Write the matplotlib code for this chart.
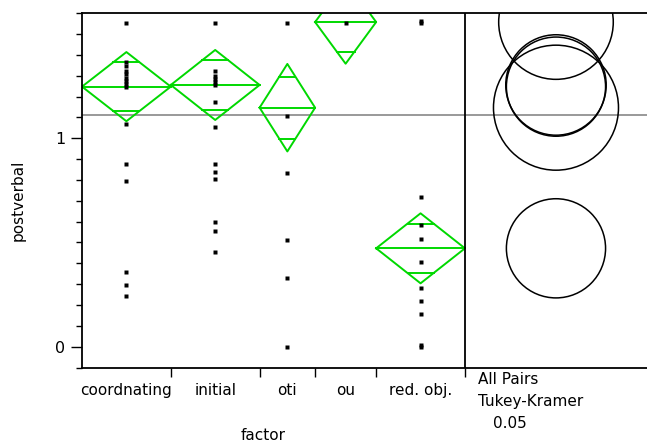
import numpy as np
import matplotlib.pyplot as plt
from matplotlib.patches import Ellipse

# groups (width of each group is proportional to its size)
groups = ['coordnating', 'initial', 'oti', 'ou', 'red. obj.']
group_n = [16, 16, 10, 11, 16]

obs = {
    'coordnating': [1.553, 1.365, 1.345, 1.325, 1.31, 1.29, 1.275, 1.26, 1.245,
                    1.069, 0.878, 0.797, 0.36, 0.298, 0.245],
    'initial': [1.553, 1.324, 1.30, 1.285, 1.27, 1.255, 1.173, 1.056,
                0.878, 0.837, 0.806, 0.600, 0.557, 0.456],
    'oti': [1.553, 1.108, 0.833, 0.512, 0.330, 0.0],
    'ou': [1.553],
    'red. obj.': [1.565, 1.553, 0.720, 0.585, 0.518, 0.408, 0.282, 0.221, 0.158,
                  0.0, 0.008],
}

# means diamonds: group mean and 95% CI half width
means = [1.248, 1.256, 1.147, 1.558, 0.472]
ci_half = [0.166, 0.168, 0.210, 0.200, 0.168]
grand_mean = 1.112

# Tukey-Kramer comparison circles (radius)
circle_r = [0.238, 0.241, 0.300, 0.275, 0.238]

W, H = 647, 443
fig = plt.figure(figsize=(W / 100, H / 100), dpi=100)
ax = fig.add_axes([82 / W, (H - 367.5) / H, (W - 82) / W, (367.5 - 13.3) / H])

edges = np.concatenate([[0], np.cumsum(group_n)])
total = edges[-1]
right_w = 32.8
ax.set_xlim(0, total + right_w)
ax.set_ylim(-0.1, 1.6)

green = '#00d800'
for i, g in enumerate(groups):
    x0, x1 = edges[i], edges[i + 1]
    xc = (x0 + x1) / 2
    m, h = means[i], ci_half[i]
    # diamond
    ax.plot([x0, xc, x1, xc, x0], [m, m + h, m, m - h, m], color=green, lw=1.4)
    ax.plot([x0, x1], [m, m], color=green, lw=1.4)
    # overlap marks
    d = h / np.sqrt(2)
    hw = (x1 - x0) / 2 * (1 - 1 / np.sqrt(2))
    ax.plot([xc - hw, xc + hw], [m + d, m + d], color=green, lw=1.4)
    ax.plot([xc - hw, xc + hw], [m - d, m - d], color=green, lw=1.4)
    # points
    ys = obs[g]
    ax.plot([xc] * len(ys), ys, 's', color='black', ms=2.9, mec='none')

ax.axhline(grand_mean, color='#888888', lw=1.2, zorder=1)
ax.axvline(total, color='black', lw=1.3)

# comparison circles, made round in pixel space
fig.canvas.draw()
bb = ax.get_window_extent()
px_x = bb.width / (total + right_w)
px_y = bb.height / 1.7
cx = total + right_w / 2
for m, r in zip(means, circle_r):
    ax.add_patch(Ellipse((cx, m), 2 * r * px_y / px_x, 2 * r, fill=False,
                         ec='black', lw=1.1))

ax.spines['right'].set_visible(False)
for s in ['left', 'bottom', 'top']:
    ax.spines[s].set_linewidth(1.3)

ax.set_yticks([0, 1])
ax.set_yticks(np.arange(-0.1, 1.61, 0.1), minor=True)
ax.tick_params(axis='y', which='major', length=8, width=1, labelsize=11.5, pad=4)
ax.tick_params(axis='y', which='minor', length=4, width=1)

ax.set_xticks(edges[1:])
ax.set_xticklabels([])
ax.set_xticks((edges[:-1] + edges[1:]) / 2, minor=True)
ax.set_xticklabels(groups, minor=True)
ax.tick_params(axis='x', which='major', length=6.5, width=1)
ax.tick_params(axis='x', which='minor', length=0, labelsize=11, pad=11.5)

fig.text(18 / W, 1 - 200 / H, 'postverbal', rotation=90, ha='center',
         va='center', fontsize=11)
fig.text(263 / W, 1 - 436 / H, 'factor', ha='center', va='center', fontsize=11)
fig.text(478 / W, 1 - 380 / H, 'All Pairs', ha='left', va='center', fontsize=11)
fig.text(478 / W, 1 - 401.5 / H, 'Tukey-Kramer', ha='left', va='center', fontsize=11)
fig.text(493 / W, 1 - 423 / H, '0.05', ha='left', va='center', fontsize=11)

fig.savefig('out.png', dpi=100)
